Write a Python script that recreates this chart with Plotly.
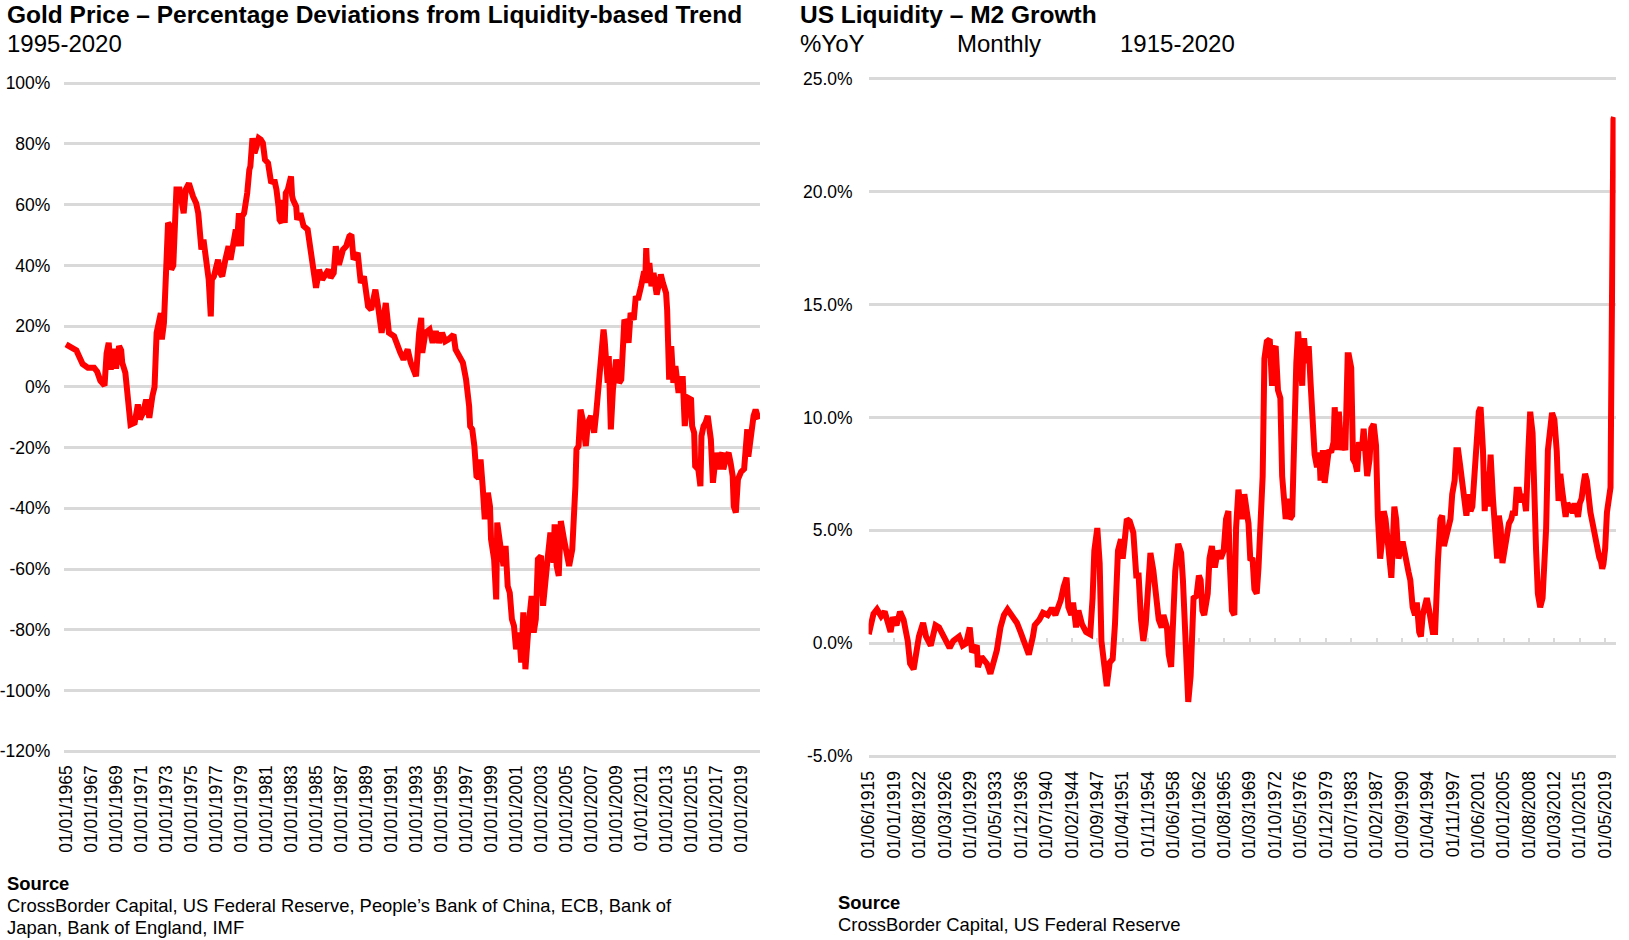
import plotly.graph_objects as go
import pandas as pd

# ---------------- data: Gold price deviation from liquidity trend (%) ----------------
gold_dates = ["1965-01","1965-06","1965-11","1966-05","1966-10","1967-04","1967-07","1967-10","1968-02","1968-04",
"1968-06","1968-08","1968-11","1969-01","1969-04","1969-06","1969-07","1969-10","1969-12","1970-01",
"1970-03","1970-07","1970-10","1970-12","1971-03","1971-06","1971-09","1971-12","1972-02","1972-04",
"1972-06","1972-08","1972-09","1972-11","1973-01","1973-03","1973-05","1973-06","1973-08","1973-11",
"1974-02","1974-04","1974-06","1974-08","1974-11","1975-03","1975-06","1975-08","1975-09","1975-11",
"1976-01","1976-03","1976-05","1976-06","1976-08","1976-09","1976-11","1977-03","1977-05","1977-07",
"1977-10","1978-01","1978-03","1978-05","1978-08","1978-09","1978-11","1979-01","1979-02","1979-04",
"1979-06","1979-07","1979-09","1979-10","1979-12","1980-02","1980-04","1980-06","1980-08","1980-10",
"1980-12","1981-03","1981-04","1981-06","1981-09","1981-11","1982-01","1982-02","1982-04","1982-05",
"1982-07","1982-08","1982-10","1983-01","1983-02","1983-03","1983-06","1983-07","1983-10","1984-01",
"1984-05","1984-08","1984-11","1985-01","1985-04","1985-07","1986-01","1986-03","1986-06","1986-08",
"1986-11","1987-03","1987-06","1987-09","1987-11","1988-01","1988-05","1988-08","1988-11","1989-03",
"1989-06","1989-10","1990-01","1990-04","1990-08","1990-10","1990-11","1991-04","1991-07","1991-10",
"1992-01","1992-05","1992-08","1992-11","1993-01","1993-04","1993-06","1993-07","1993-10","1994-02",
"1994-05","1994-08","1994-11","1995-02","1995-05","1995-08","1996-01","1996-03","1996-06","1996-10",
"1997-01","1997-03","1997-04","1997-05","1997-07","1997-09","1997-11","1998-01","1998-03","1998-05",
"1998-07","1998-10","1998-12","1999-01","1999-04","1999-06","1999-07","1999-10","2000-01","2000-03",
"2000-05","2000-07","2000-09","2000-11","2001-01","2001-04","2001-06","2001-08","2001-10","2002-01",
"2002-04","2002-06","2002-08","2002-10","2003-01","2003-03","2003-05","2003-07","2003-10","2004-01",
"2004-02","2004-04","2004-06","2004-08","2004-11","2005-02","2005-04","2005-07","2005-09","2005-10",
"2005-11","2006-01","2006-03","2006-05","2006-08","2006-10","2007-01","2007-04","2007-06","2007-08",
"2007-09","2007-10","2008-01","2008-02","2008-03","2008-05","2008-06","2008-08","2008-10","2009-01",
"2009-03","2009-04","2009-06","2009-09","2009-11","2010-01","2010-03","2010-06","2010-08","2010-10",
"2011-01","2011-03","2011-04","2011-05","2011-06","2011-07","2011-09","2011-11","2012-01","2012-04",
"2012-06","2012-08","2012-10","2013-01","2013-02","2013-03","2013-04","2013-06","2013-07","2013-08",
"2013-10","2014-01","2014-02","2014-04","2014-05","2014-07","2014-10","2015-01","2015-02","2015-04",
"2015-05","2015-08","2015-10","2015-11","2016-01","2016-03","2016-05","2016-07","2016-08","2016-10",
"2017-01","2017-03","2017-04","2017-07","2017-08","2017-11","2018-01","2018-03","2018-05","2018-06",
"2018-08","2018-10","2019-01","2019-04","2019-06","2019-07","2019-08","2019-10","2020-01","2020-03",
"2020-06"]
gold_dev = [14,13,12,7.5,6.3,6.3,5,2,0.4,11,
14.5,5.7,12.5,6,13.4,12,8,4.6,-2,-9.6,
-12.4,-11.8,-5.8,-10.7,-8.5,-4.2,-10.2,-3,0,17.8,
22.1,24.3,15.6,21,37.5,54,53,38.6,40,65,
65,61.6,57.2,65,67,62.7,60.5,57.2,50.7,45.2,
48.5,43,38.6,35.3,23.2,35.3,36.4,41.9,37.5,36.4,
41.9,46.3,41.9,47.4,51.8,46.3,57.2,46.3,56.1,57.2,
60.5,63.8,71.5,72.6,81.9,77,79.2,81.9,81.4,80.3,
74.8,73.7,71.5,67.1,68.2,65,59.4,55,54,61.6,
54,63.8,65,69.3,63,61.6,59.4,55,57.2,53,
51.8,45.2,39.7,32.6,38.6,35.3,38.6,35.9,37.5,46.3,
40.2,45.2,46.3,49.6,50.1,41.9,44.1,34.2,36.4,26.5,
25.4,32,25.4,17.8,27.6,22.1,17.8,16.7,13.4,11.2,
9,12.3,7.9,4.6,3.5,17.8,22.7,11.2,17.8,18.9,
14.5,18.3,14.5,17.8,15,15.6,17.2,12.3,10.1,7.9,
2.4,-3,-6.4,-13,-14,-19.5,-29.4,-30,-23.9,-32.7,
-43.6,-34.9,-39.3,-50.2,-56.8,-70,-44.7,-52.4,-59,-52.4,
-65.6,-67.8,-76.5,-78.7,-86.4,-80.9,-90.8,-74.3,-93,-78.7,
-68.9,-80.9,-76.5,-56.8,-55.7,-72.1,-66.7,-57.9,-48,-57.9,
-45.3,-59,-62.3,-44.2,-50.2,-55.7,-59,-53.5,-41.4,-32.7,
-20.6,-19.5,-7.5,-10.7,-19.5,-11.8,-9.6,-15.1,-8.6,0,
2.4,11.2,18.9,15.6,11.2,1.3,10.1,-14,-0.9,9,
4.6,1.3,2.4,22.1,21,14.5,24.3,22.1,29.8,28.7,
33.1,35.3,38,34.2,45.7,38,40.8,33.1,37.5,30.4,
35.3,37,34.2,30.9,25.4,15.6,2.4,13.4,5.7,1.3,
6.8,-2,2.4,0.2,3.5,-12.9,-3.6,-4.2,-12.9,-15.1,
-26.1,-27.2,-32.7,-16.2,-12.9,-11.8,-9.6,-14,-17.3,-31.6,
-21.7,-27.2,-23.9,-21.7,-27.2,-22.8,-21.7,-25,-29.4,-39.3,
-41.4,-30.5,-28,-27,-16,-14,-23,-17,-9.6,-7.5,
-10.7]

# ---------------- data: US M2 growth, % YoY ----------------
m2_dates = ["1915-06","1916-02","1916-08","1917-03","1917-09","1918-02","1918-07","1918-11","1919-05","1919-11",
"1920-05","1920-12","1921-04","1921-10","1922-04","1922-07","1923-02","1923-07","1924-03","1924-11",
"1925-05","1926-01","1926-11","1927-05","1928-03","1928-09","1929-03","1929-09","1930-01","1930-09",
"1930-11","1931-05","1932-02","1932-08","1933-01","1933-07","1934-01","1934-07","1935-01","1935-05",
"1935-11","1936-05","1936-11","1937-07","1938-01","1938-08","1938-11","1939-07","1940-01","1940-09",
"1941-04","1941-10","1942-07","1942-12","1943-05","1943-08","1944-01","1944-04","1944-09","1945-01",
"1945-07","1946-02","1946-09","1947-01","1947-04","1947-09","1948-01","1948-04","1948-08","1949-01",
"1949-06","1949-11","1950-03","1950-08","1951-01","1951-04","1951-08","1951-11","1952-04","1952-10",
"1953-03","1953-07","1953-11","1954-03","1954-07","1954-11","1955-03","1955-08","1956-01","1956-05",
"1956-10","1957-01","1957-07","1957-10","1958-02","1958-05","1958-09","1959-02","1959-07","1959-10",
"1960-03","1960-07","1960-11","1961-04","1961-09","1962-01","1962-04","1962-07","1962-10","1963-04",
"1963-07","1963-11","1964-04","1964-09","1965-02","1965-07","1965-11","1966-03","1966-05","1966-09",
"1967-01","1967-04","1967-08","1967-11","1968-02","1968-06","1968-10","1969-01","1969-04","1969-08",
"1969-11","1970-03","1970-06","1970-10","1971-01","1971-04","1971-08","1972-01","1972-05","1972-08",
"1972-11","1973-03","1973-07","1973-10","1974-01","1974-04","1974-08","1974-11","1975-03","1975-07",
"1975-10","1976-01","1976-05","1976-08","1976-10","1976-11","1977-03","1977-07","1977-10","1978-02",
"1978-05","1978-09","1979-01","1979-03","1979-07","1979-10","1980-02","1980-05","1980-09","1981-01",
"1981-03","1981-07","1981-10","1982-02","1982-05","1982-09","1983-01","1983-03","1983-07","1983-10",
"1984-02","1984-05","1984-08","1985-01","1985-04","1985-07","1985-10","1986-02","1986-05","1986-09",
"1987-01","1987-04","1987-08","1987-11","1988-02","1988-05","1988-09","1989-01","1989-03","1989-08",
"1989-11","1990-03","1990-07","1990-10","1991-02","1991-04","1991-08","1991-11","1992-03","1992-07",
"1992-10","1993-02","1993-05","1993-08","1993-11","1994-03","1994-07","1994-10","1995-01","1995-05",
"1995-07","1995-10","1996-02","1996-05","1996-08","1996-11","1997-03","1997-07","1997-10","1998-02",
"1998-05","1998-08","1998-11","1999-03","1999-07","1999-10","2000-02","2000-05","2000-08","2000-12",
"2001-03","2001-07","2001-10","2002-02","2002-05","2002-09","2002-11","2003-03","2003-07","2003-10",
"2004-02","2004-05","2004-08","2004-11","2005-03","2005-07","2005-10","2006-02","2006-05","2006-08",
"2006-11","2007-03","2007-07","2007-11","2008-03","2008-07","2008-10","2009-02","2009-04","2009-08",
"2009-11","2010-03","2010-07","2010-09","2011-01","2011-04","2011-08","2011-11","2012-03","2012-07",
"2012-10","2013-01","2013-04","2013-07","2013-10","2014-01","2014-04","2014-07","2014-10","2015-01",
"2015-04","2015-07","2015-10","2016-01","2016-04","2016-07","2016-10","2017-01","2017-04","2017-07",
"2017-10","2018-01","2018-04","2018-07","2018-10","2018-12","2019-02","2019-05","2019-08","2019-11",
"2020-01","2020-02","2020-03","2020-04","2020-05","2020-06","2020-07","2020-08"]
m2_yoy = [0.4,1.3,1.5,1.2,1.4,0.9,0.5,1.15,0.8,1.4,
1.05,0.1,-0.9,-1.15,-0.3,0.3,0.9,0.3,-0.1,0.8,
0.7,0.3,-0.2,0.1,0.3,-0.1,0.0,0.7,-0.4,-0.1,
-1.05,-0.6,-0.9,-1.35,-0.9,-0.3,0.7,1.25,1.5,1.35,
1.05,0.9,0.5,-0.1,-0.5,0.3,0.8,1.05,1.35,1.25,
1.55,1.25,1.9,2.5,2.9,1.6,1.25,1.8,0.7,1.45,
0.85,0.5,0.4,2.0,4.1,5.1,3.55,0.1,-1.05,-1.9,
-0.85,-0.7,0.85,4.1,4.6,3.75,4.7,5.5,5.4,4.9,
3.0,3.0,1.05,0.1,0.85,2.9,4.0,3.2,1.8,1.05,
0.7,1.25,0.7,-0.5,-1.05,0.85,3.2,4.4,4.0,2.8,
-0.7,-2.6,-1.45,2.0,2.1,3.0,2.8,1.45,1.25,2.2,
3.75,4.3,3.35,4.1,3.75,4.1,5.5,5.85,3.75,1.45,
1.25,5.1,6.8,6.05,5.5,6.6,6.05,5.3,3.75,3.7,
2.4,2.2,3.35,5.1,7.4,12.6,13.35,13.45,11.4,13.0,
13.15,11.2,10.85,7.4,6.05,5.5,6.4,5.5,5.65,11.0,
12.4,13.8,12.4,11.4,13.15,13.5,12.4,13.15,11.6,8.9,
8.35,7.8,8.45,7.2,8.55,7.1,7.95,8.55,8.45,8.9,
10.45,8.55,10.25,8.55,8.9,8.55,12.75,12.75,12.2,8.15,
7.95,7.6,8.9,8.55,9.5,8.55,7.4,8.15,9.5,9.7,
8.75,5.65,3.75,4.5,5.85,5.5,4.3,3.15,2.9,6.05,
5.5,3.75,4.1,4.5,3.95,3.55,3.15,2.8,1.6,1.25,
1.8,0.5,0.3,1.25,1.6,2.0,1.45,0.85,0.5,0.5,
2.2,3.75,5.5,5.65,4.3,4.7,5.1,5.5,6.6,7.2,
8.55,8.55,7.95,7.0,6.05,5.65,6.6,5.85,6.05,7.6,
8.55,10.25,10.45,8.55,5.85,7.6,6.05,8.35,6.4,4.7,
3.75,5.65,5.1,3.55,4.3,5.1,5.3,5.5,5.85,5.65,
6.8,6.8,6.25,6.6,5.85,8.55,10.25,9.3,6.6,4.1,
2.2,1.6,2.0,3.15,5.1,8.55,9.9,10.2,9.9,8.5,
6.3,7.5,6.8,6.0,5.6,6.2,6.0,5.9,5.8,6.2,
5.9,5.6,6.2,6.4,7.0,7.5,7.2,6.1,5.8,5.4,
4.9,4.5,4.0,3.8,3.6,3.3,3.5,4.2,5.8,6.6,
6.8,6.9,10.2,18.0,23.0,23.1,23.2,23.3]

# ---------------- axis ticks / labels ----------------
gold_xticks = pd.date_range("1965-01-01", "2019-01-01", freq="24MS")
m2_xticks = pd.date_range("1915-06-01", periods=30, freq="43MS")
gold_yticks = [-120, -100, -80, -60, -40, -20, 0, 20, 40, 60, 80, 100]
gold_ytext = ["-120%", "-100%", "-80%", "-60%", "-40%", "-20%", "0%", "20%", "40%", "60%", "80%", "100%"]
m2_yticks = [-5, 0, 5, 10, 15, 20, 25]
m2_ytext = ["-5.0%", "0.0%", "5.0%", "10.0%", "15.0%", "20.0%", "25.0%"]

# ---------------- layout geometry (pixels of a 1629 x 940 page) ----------------
W, H = 1629, 940
FONT = "Liberation Sans, Arial, Helvetica, sans-serif"
RED = "#ff0000"
GRID = "#d9d9d9"


def ydomain(v_top, px_top, v_bot, px_bot, pad):
    k = (px_bot - px_top) / (v_top - v_bot)
    top = px_top - pad * k
    bot = px_bot + pad * k
    return [1 - bot / H, 1 - top / H], k


gold_ydom, gk = ydomain(100, 83.2, -120, 751.2, 0.5)
m2_ydom, mk = ydomain(25, 78.6, -5, 756.2, 0.1)
m2_zero_paper = 1 - (78.6 + 25 * mk) / H

gold_xdom = [64.4 / W, 760.0 / W]
m2_xdom = [868.6 / W, 1615.6 / W]
gold_xrange = ["1964-11-15", "2020-07-07"]
m2_xrange = ["1915-05-25", "2020-10-20"]

tickfont = dict(family=FONT, size=17.5, color="#000000")

fig = go.Figure()
fig.add_trace(go.Scatter(x=gold_dates, y=gold_dev, mode="lines",
                         line=dict(color=RED, width=6), xaxis="x", yaxis="y",
                         hoverinfo="skip", showlegend=False))
fig.add_trace(go.Scatter(x=m2_dates, y=m2_yoy, mode="lines",
                         line=dict(color=RED, width=6), xaxis="x2", yaxis="y2",
                         hoverinfo="skip", showlegend=False))
# invisible helper so the tick-only overlay axis at 0% is created
fig.add_trace(go.Scatter(x=m2_dates[:1], y=m2_yoy[:1], mode="markers",
                         marker=dict(size=1, opacity=0), xaxis="x3", yaxis="y2",
                         hoverinfo="skip", showlegend=False))

fig.update_layout(
    width=W, height=H, autosize=False,
    margin=dict(l=0, r=0, t=0, b=0, pad=0),
    paper_bgcolor="white", plot_bgcolor="white",
    font=dict(family=FONT, color="#000000"),
    showlegend=False,
    xaxis=dict(domain=gold_xdom, anchor="y", type="date", range=gold_xrange,
               tickmode="array", tickvals=gold_xticks, tickformat="%d/%m/%Y",
               tickangle=-90, tickfont=tickfont, ticks="", showgrid=False,
               zeroline=False, showline=False, ticklabelstandoff=8, automargin=False),
    yaxis=dict(domain=gold_ydom, anchor="x", range=[-120.5, 100.5],
               tickmode="array", tickvals=gold_yticks, ticktext=gold_ytext,
               tickfont=tickfont, ticks="", showgrid=True, gridcolor=GRID, gridwidth=3,
               zeroline=False, showline=False, ticklabelstandoff=13, automargin=False),
    xaxis2=dict(domain=m2_xdom, anchor="y2", type="date", range=m2_xrange,
                tickmode="array", tickvals=m2_xticks, tickformat="%d/%m/%Y",
                tickangle=-90, tickfont=tickfont, ticks="", showgrid=False,
                zeroline=False, showline=False, ticklabelstandoff=8, automargin=False),
    xaxis3=dict(domain=m2_xdom, overlaying="x2", anchor="free", position=m2_zero_paper,
                side="bottom", type="date", range=m2_xrange,
                tickmode="array", tickvals=m2_xticks, ticks="inside", ticklen=5,
                tickwidth=2, tickcolor=GRID, showticklabels=False, showgrid=False,
                zeroline=False, showline=False, layer="below traces", automargin=False),
    yaxis2=dict(domain=m2_ydom, anchor="x2", range=[-5.1, 25.1],
                tickmode="array", tickvals=m2_yticks, ticktext=m2_ytext,
                tickfont=tickfont, ticks="", showgrid=True, gridcolor=GRID, gridwidth=3,
                zeroline=False, showline=False, ticklabelstandoff=15, automargin=False),
)


def label(text, px_x, px_y, size, bold=False):
    fig.add_annotation(text=("<b>%s</b>" % text) if bold else text,
                       x=px_x / W, y=1 - px_y / H, xref="paper", yref="paper",
                       xanchor="left", yanchor="middle", showarrow=False,
                       font=dict(family=FONT, size=size, color="#000000"))


label("Gold Price – Percentage Deviations from Liquidity-based Trend", 5, 14.5, 24.5, bold=True)
label("1995-2020", 5, 43, 24)
label("US Liquidity – M2 Growth", 798, 14.5, 24.5, bold=True)
label("%YoY", 798, 43, 24)
label("Monthly", 955, 43, 24)
label("1915-2020", 1118, 43, 24)

label("Source", 5, 883, 18.4, bold=True)
label("CrossBorder Capital, US Federal Reserve, People’s Bank of China, ECB, Bank of", 5, 905, 18.4)
label("Japan, Bank of England, IMF", 5, 927, 18.4)
label("Source", 836, 902, 18.4, bold=True)
label("CrossBorder Capital, US Federal Reserve", 836, 924, 18.4)

fig.write_html("out.html", config={"displayModeBar": False},
               post_script="document.body.style.margin='0';document.body.style.overflow='hidden';")
